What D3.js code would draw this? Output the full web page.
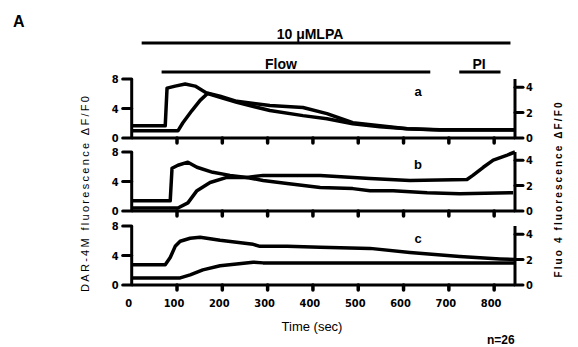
<!DOCTYPE html>
<html>
<head>
<meta charset="utf-8">
<script src="https://cdn.jsdelivr.net/npm/d3@7"></script>
<style>
  body { margin: 0; background: #fff; }
  svg { display: block; }
  text { font-family: "Liberation Sans", Arial, sans-serif; fill: #000; }
  .tick-lbl { font-family: "Liberation Sans Narrow", "DejaVu Sans Condensed", sans-serif; font-weight: bold; font-size: 11px; }
</style>
</head>
<body>
<div id="app"></div>
<script>
// time ticks (sec)
const timeTicks = [0, 100, 200, 300, 400, 500, 600, 700, 800];
const leftTicks = [0, 4, 8];
const rightTicks = [0, 2, 4];
const panelNames = ['a', 'b', 'c'];

// treatment bars [start, end] in sec
const lpaBar = [22, 836];
const flowBar = [66, 659];
const piBar = [723, 814];

// Fluo 4 (right axis) traces, [time, dF/F0]
const fluoA = [[0,0.96],[74,0.96],[78,3.92],[96,4.08],[118,4.24],[140,4.08],[166,3.52],[195,3.2],[232,2.8],[305,2.16],[378,1.76],[431,1.52],[488,1.12],[548,0.88],[608,0.72],[680,0.64],[846,0.64]];
const fluoB = [[0,0.8],[85,0.8],[89,3.36],[102,3.6],[124,3.84],[144,3.44],[179,3.04],[217,2.8],[254,2.64],[290,2.4],[343,2.16],[416,1.84],[488,1.76],[526,1.6],[577,1.6],[652,1.44],[724,1.36],[842,1.44]];
const fluoC = [[0,1.6],[74,1.6],[85,2.16],[96,3.04],[107,3.44],[129,3.68],[151,3.76],[195,3.52],[268,3.2],[283,3.04],[343,3.04],[416,2.96],[526,2.88],[614,2.56],[724,2.24],[813,2.05],[846,2.0]];

// DAR-4M (left axis) traces, [time, dF/F0]
const darA = [[0,0.97],[102,0.97],[113,2.07],[133,3.72],[151,5.1],[168,6.07],[195,5.66],[232,4.97],[305,4.41],[378,4.14],[431,3.31],[488,2.07],[548,1.66],[608,1.24],[680,1.1],[846,1.1]];
const darB = [[0,0.41],[102,0.41],[124,1.1],[144,2.76],[173,3.86],[210,4.55],[254,4.55],[290,4.83],[416,4.83],[526,4.41],[614,4.14],[740,4.28],[753,4.83],[776,5.93],[798,6.9],[829,7.59],[846,8.0]];
const darC = [[0,0.96],[107,0.96],[129,1.37],[157,2.05],[195,2.6],[268,3.1],[290,3.0],[416,3.0],[614,3.0],[846,3.0]];

const fluoSeries = [fluoA, fluoB, fluoC];
const darSeries = [darA, darB, darC];

const width = 578, height = 347;
const panelTops = [79, 152, 226];
const panelH = 59;

const svg = d3.select('#app').append('svg')
  .attr('width', width)
  .attr('height', height);

const x = d3.scaleLinear().domain([0, 846]).range([131.7, 515]);

const line = y => d3.line().x(d => x(d[0])).y(d => y(d[1]));

panelTops.forEach((top, i) => {
  const bottom = top + panelH;
  const yL = d3.scaleLinear().domain([0, 8]).range([bottom, top]);
  const yR = d3.scaleLinear().domain([0, 4.64]).range([bottom, top]);
  const g = svg.append('g');

  // traces
  g.append('path').datum(darSeries[i])
    .attr('d', line(yL))
    .attr('fill', 'none').attr('stroke', '#000').attr('stroke-width', 3.5).attr('stroke-linejoin', 'round');
  g.append('path').datum(fluoSeries[i])
    .attr('d', line(yR))
    .attr('fill', 'none').attr('stroke', '#000').attr('stroke-width', 3.5).attr('stroke-linejoin', 'round');

  // bottom axis
  g.append('line')
    .attr('x1', x(0)).attr('x2', x(846))
    .attr('y1', bottom).attr('y2', bottom)
    .attr('stroke', '#000').attr('stroke-width', 3);
  g.selectAll('.xt').data(timeTicks.filter(t => t > 0)).join('line')
    .attr('x1', d => x(d)).attr('x2', d => x(d))
    .attr('y1', bottom).attr('y2', bottom + 5)
    .attr('stroke', '#000').attr('stroke-width', 3.5).attr('stroke-linecap', 'round');

  // left axis
  g.append('line')
    .attr('x1', x(0)).attr('x2', x(0))
    .attr('y1', bottom).attr('y2', top)
    .attr('stroke', '#000').attr('stroke-width', 3);
  g.selectAll('.lt').data(leftTicks).join('line')
    .attr('x1', x(0) - 9).attr('x2', x(0))
    .attr('y1', d => yL(d)).attr('y2', d => yL(d))
    .attr('stroke', '#000').attr('stroke-width', 3).attr('stroke-linecap', 'round');
  g.selectAll('.ll').data(leftTicks).join('text')
    .attr('class', 'tick-lbl')
    .attr('x', x(0) - 13).attr('y', d => yL(d) + 4)
    .attr('text-anchor', 'end')
    .text(d => d);

  // right axis
  g.append('line')
    .attr('x1', x(846)).attr('x2', x(846))
    .attr('y1', bottom).attr('y2', top)
    .attr('stroke', '#000').attr('stroke-width', 3);
  g.selectAll('.rt').data(rightTicks).join('line')
    .attr('x1', x(846)).attr('x2', x(846) + 8)
    .attr('y1', d => yR(d)).attr('y2', d => yR(d))
    .attr('stroke', '#000').attr('stroke-width', 3).attr('stroke-linecap', 'round');
  g.selectAll('.rl').data(rightTicks).join('text')
    .attr('class', 'tick-lbl')
    .attr('x', x(846) + 11).attr('y', d => yR(d) + 4)
    .text(d => d);

  // panel letter
  g.append('text')
    .attr('x', 418).attr('y', top + 17)
    .attr('text-anchor', 'middle')
    .style('font-weight', 'bold').style('font-size', '13px')
    .text(panelNames[i]);
});

// x tick labels on bottom panel
const lastBottom = panelTops[2] + panelH;
svg.selectAll('.xl').data(timeTicks).join('text')
  .attr('class', 'tick-lbl')
  .attr('x', d => x(d) - 3).attr('y', lastBottom + 22)
  .attr('text-anchor', 'middle')
  .text(d => d);

svg.append('text')
  .attr('x', 312).attr('y', lastBottom + 46)
  .attr('text-anchor', 'middle')
  .style('font-size', '13px')
  .text('Time (sec)');

svg.append('text')
  .attr('x', 487).attr('y', 344)
  .style('font-size', '12px').style('font-weight', 'bold')
  .text('n=26');

// treatment bars
const bar = (range, yy) => svg.append('line')
  .attr('x1', x(range[0])).attr('x2', x(range[1]))
  .attr('y1', yy).attr('y2', yy)
  .attr('stroke', '#000').attr('stroke-width', 3);
bar(lpaBar, 43);
bar(flowBar, 72);
bar(piBar, 72);

svg.append('text').attr('x', 310).attr('y', 39).attr('text-anchor', 'middle')
  .style('font-size', '14px').style('font-weight', 'bold').text('10 μMLPA');
svg.append('text').attr('x', 281).attr('y', 69).attr('text-anchor', 'middle')
  .style('font-size', '14px').style('font-weight', 'bold').text('Flow');
svg.append('text').attr('x', 479).attr('y', 69).attr('text-anchor', 'middle')
  .style('font-size', '14px').style('font-weight', 'bold').text('PI');

svg.append('text').attr('x', 13).attr('y', 27)
  .style('font-size', '16px').style('font-weight', 'bold').text('A');

// axis titles
svg.append('text')
  .attr('transform', 'translate(89,194) rotate(-90)')
  .attr('text-anchor', 'middle')
  .attr('textLength', 196).attr('lengthAdjust', 'spacing')
  .style('font-size', '11px')
  .text('DAR-4M fluorescence  ΔF/F0');

svg.append('text')
  .attr('transform', 'translate(562,190) rotate(-90)')
  .attr('text-anchor', 'middle')
  .attr('textLength', 175).attr('lengthAdjust', 'spacing')
  .style('font-size', '10px').style('font-weight', 'bold')
  .text('Fluo 4 fluorescence  ΔF/F0');
</script>
</body>
</html>
